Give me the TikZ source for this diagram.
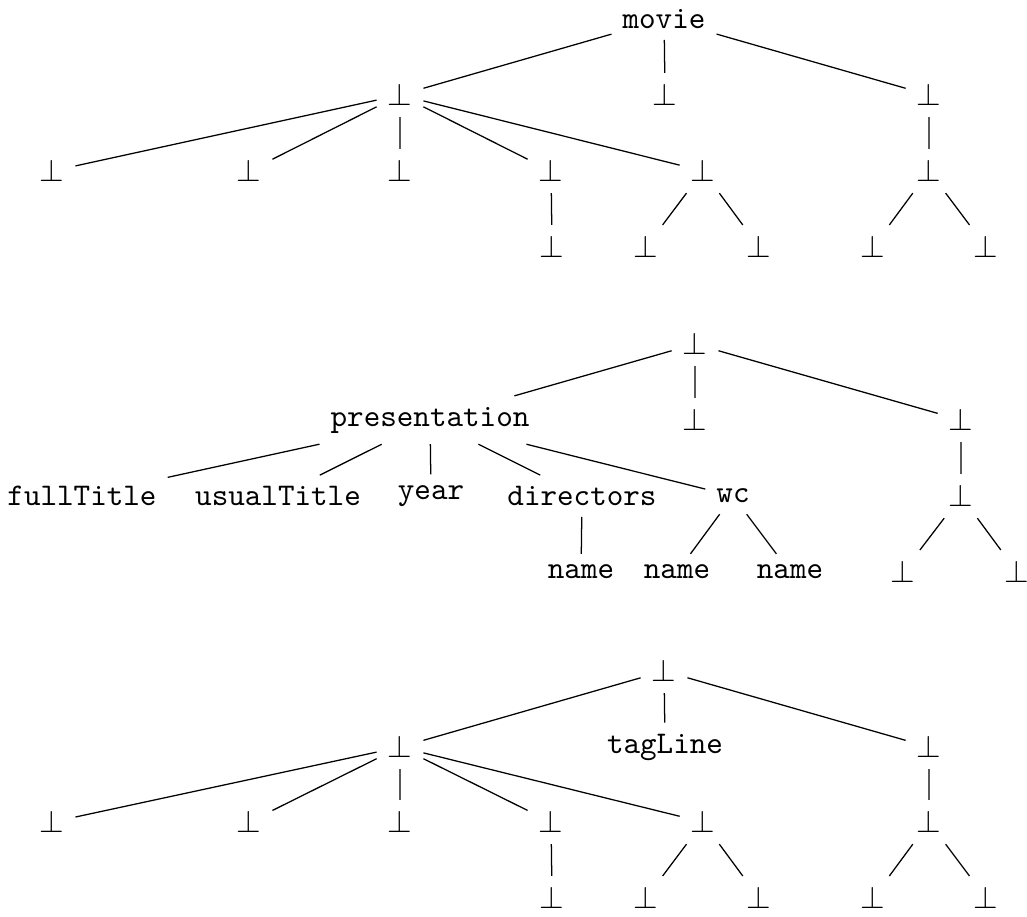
\documentclass[tikz,border=0pt]{standalone}
\begin{document}
\begin{tikzpicture}[scale=0.1114]
\tikzstyle{every node}+=[font=\ttfamily]
\useasboundingbox (0,0) rectangle (102.7,-91.6);
% first tree: movie
\node (m) at (66.4,-1.9) {movie};
\node (m1) at (40.0,-9.5) {$\bot$};
\node (m2) at (66.5,-9.5) {$\bot$};
\node (m3) at (92.9,-9.5) {$\bot$};
\node (m11) at (5.2,-17.1) {$\bot$};
\node (m12) at (24.9,-17.1) {$\bot$};
\node (m13) at (40.0,-17.1) {$\bot$};
\node (m14) at (55.1,-17.1) {$\bot$};
\node (m15) at (70.3,-17.1) {$\bot$};
\node (m31) at (92.9,-17.1) {$\bot$};
\node (m141) at (55.2,-24.7) {$\bot$};
\node (m151) at (64.6,-24.7) {$\bot$};
\node (m152) at (75.9,-24.7) {$\bot$};
\node (m311) at (87.3,-24.7) {$\bot$};
\node (m312) at (98.6,-24.7) {$\bot$};
\draw (m) -- (m1);
\draw (m) -- (m2);
\draw (m) -- (m3);
\draw (m1) -- (m11);
\draw (m1) -- (m12);
\draw (m1) -- (m13);
\draw (m1) -- (m14);
\draw (m1) -- (m15);
\draw (m3) -- (m31);
\draw (m14) -- (m141);
\draw (m15) -- (m151);
\draw (m15) -- (m152);
\draw (m31) -- (m311);
\draw (m31) -- (m312);
% second tree: presentation
\node (p) at (69.5,-34.4) {$\bot$};
\node (p1) at (43.0,-42.0) {presentation};
\node (p2) at (69.5,-42.0) {$\bot$};
\node (p3) at (96.1,-42.0) {$\bot$};
\node (p11) at (8.2,-49.6) {fullTitle};
\node (p12) at (27.8,-49.6) {usualTitle};
\node (p13) at (43.1,-49.6) {year};
\node (p14) at (58.2,-49.6) {directors};
\node (p15) at (73.3,-49.6) {wc};
\node (p31) at (96.1,-49.6) {$\bot$};
\node (p141) at (58.1,-57.2) {name};
\node (p151) at (67.7,-57.2) {name};
\node (p152) at (79.0,-57.2) {name};
\node (p311) at (90.3,-57.2) {$\bot$};
\node (p312) at (101.7,-57.2) {$\bot$};
\draw (p) -- (p1);
\draw (p) -- (p2);
\draw (p) -- (p3);
\draw (p1) -- (p11);
\draw (p1) -- (p12);
\draw (p1) -- (p13);
\draw (p1) -- (p14);
\draw (p1) -- (p15);
\draw (p3) -- (p31);
\draw (p14) -- (p141);
\draw (p15) -- (p151);
\draw (p15) -- (p152);
\draw (p31) -- (p311);
\draw (p31) -- (p312);
% third tree: tagLine
\node (t) at (66.4,-67.1) {$\bot$};
\node (t1) at (40.0,-74.7) {$\bot$};
\node (t2) at (66.5,-74.7) {tagLine};
\node (t3) at (92.9,-74.7) {$\bot$};
\node (t11) at (5.2,-82.2) {$\bot$};
\node (t12) at (24.9,-82.2) {$\bot$};
\node (t13) at (40.0,-82.2) {$\bot$};
\node (t14) at (55.1,-82.2) {$\bot$};
\node (t15) at (70.3,-82.2) {$\bot$};
\node (t31) at (92.9,-82.2) {$\bot$};
\node (t141) at (55.2,-89.8) {$\bot$};
\node (t151) at (64.6,-89.8) {$\bot$};
\node (t152) at (75.9,-89.8) {$\bot$};
\node (t311) at (87.3,-89.8) {$\bot$};
\node (t312) at (98.6,-89.8) {$\bot$};
\draw (t) -- (t1);
\draw (t) -- (t2);
\draw (t) -- (t3);
\draw (t1) -- (t11);
\draw (t1) -- (t12);
\draw (t1) -- (t13);
\draw (t1) -- (t14);
\draw (t1) -- (t15);
\draw (t3) -- (t31);
\draw (t14) -- (t141);
\draw (t15) -- (t151);
\draw (t15) -- (t152);
\draw (t31) -- (t311);
\draw (t31) -- (t312);
\end{tikzpicture}
\end{document}
